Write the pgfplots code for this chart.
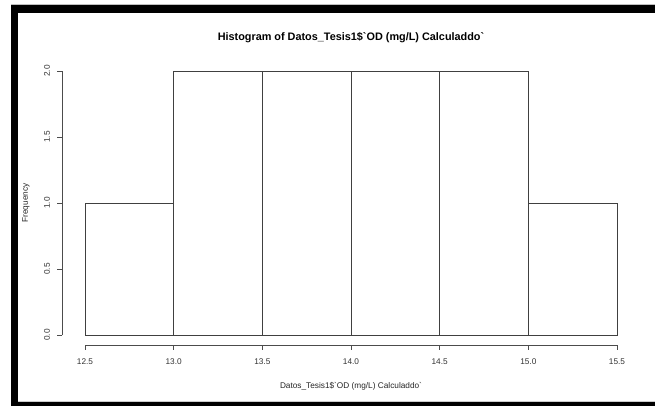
\documentclass[border=0pt]{standalone}
\usepackage{pgfplots}
\pgfplotsset{compat=1.18}
\usepackage{fontspec}
\setmainfont{Liberation Sans}
\begin{document}
\begin{tikzpicture}[x=1bp,y=1bp]
\useasboundingbox (0,0) rectangle (655,406);
\fill[white] (0,0) rectangle (655,406);
\fill[gray!50] (11,401) rectangle (655,402);
\fill[black] (11,0) rectangle (18,401);
\fill[black] (11,393) rectangle (655,401);
\fill[black] (11,0) rectangle (655,4);
\fill[gray!40] (18,4) rectangle (655,5);
\begin{axis}[
  at={(85bp,71bp)}, anchor=south west,
  scale only axis, width=532bp, height=264bp,
  xmin=12.5, xmax=15.5, ymin=0, ymax=2,
  axis lines=none, clip=false,
  title={Histogram of Datos\_Tesis1\$\textasciigrave OD (mg/L) Calculaddo\textasciigrave},
  every axis title/.style={at={(axis description cs:0.5,1)}, anchor=center, yshift=33bp, font=\bfseries\fontsize{10.9}{13}\selectfont},
]
\addplot[ybar interval, draw=black!75, line width=0.8bp, fill=none]
  coordinates {(12.5,1) (13,2) (13.5,2) (14,2) (14.5,2) (15,1) (15.5,1)};
% R-style detached axis lines, ticks and labels
\draw[black!70, line width=0.8bp] ([yshift=-10bp]axis cs:12.5,0) -- ([yshift=-10bp]axis cs:15.5,0);
\draw[black!70, line width=0.8bp] ([xshift=-23bp]axis cs:12.5,0) -- ([xshift=-23bp]axis cs:12.5,2);
\pgfplotsinvokeforeach{12.5,13.0,13.5,14.0,14.5,15.0,15.5}{
  \draw[black!70, line width=0.8bp] ([yshift=-10bp]axis cs:#1,0) -- ([yshift=-15bp]axis cs:#1,0);
  \node[font=\fontsize{8.3}{10}\selectfont, text=black!80, anchor=center] at ([yshift=-27bp]axis cs:#1,0) {#1};
}
\pgfplotsinvokeforeach{0.0,0.5,1.0,1.5,2.0}{
  \draw[black!70, line width=0.8bp] ([xshift=-23bp]axis cs:12.5,#1) -- ([xshift=-28bp]axis cs:12.5,#1);
  \node[font=\fontsize{8.3}{10}\selectfont, text=black!80, anchor=center, rotate=90] at ([xshift=-38bp]axis cs:12.5,#1) {#1};
}
\node[font=\fontsize{8.3}{10}\selectfont, text=black!85, anchor=center] at ([yshift=-51bp]axis cs:14,0) {Datos\_Tesis1\$\textasciigrave OD (mg/L) Calculaddo\textasciigrave};
\node[font=\fontsize{8.3}{10}\selectfont, text=black!85, anchor=center, rotate=90] at ([xshift=-59bp]axis cs:12.5,1) {Frequency};
\end{axis}
\end{tikzpicture}
\end{document}
